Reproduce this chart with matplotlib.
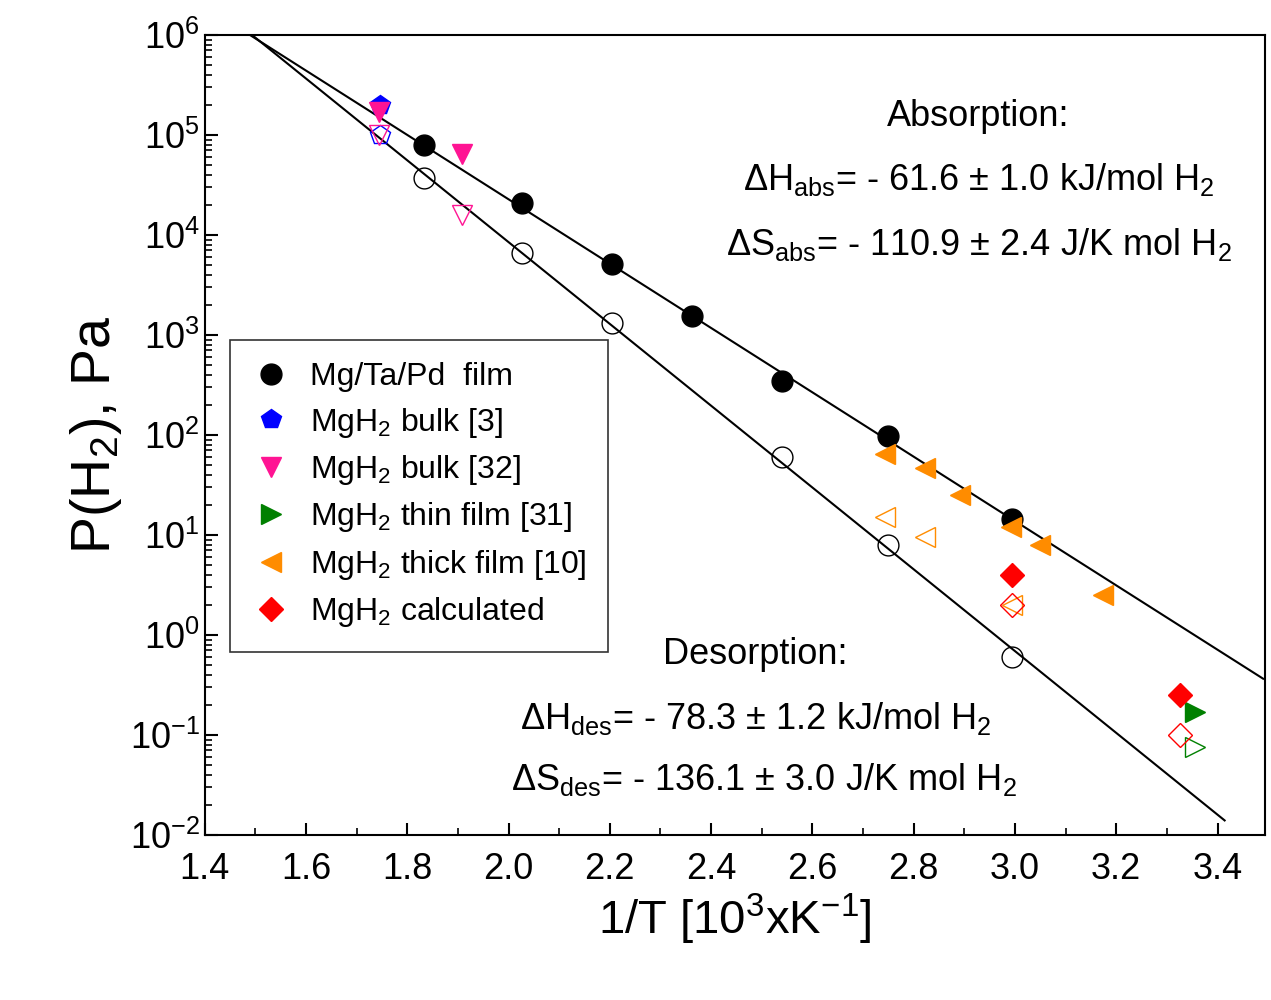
import numpy as np
import matplotlib
matplotlib.use("Agg")
from matplotlib import pyplot as plt
from matplotlib.ticker import LogLocator, MultipleLocator, NullFormatter

plt.rcParams["font.family"] = ["Liberation Sans", "DejaVu Sans"]
plt.rcParams["mathtext.fontset"] = "custom"
plt.rcParams["mathtext.rm"] = "Liberation Sans"
plt.rcParams["mathtext.it"] = "Liberation Sans:italic"

R = 8.314

# film, filled = absorption, open = desorption
film_abs_x = [1.834, 2.026, 2.204, 2.362, 2.541, 2.75, 2.995]
film_abs_p = [7.9e4, 2.1e4, 5.1e3, 1.55e3, 350, 97, 14.5]
film_des_x = [1.834, 2.026, 2.204, 2.541, 2.75, 2.995]
film_des_p = [3.7e4, 6.6e3, 1.33e3, 60, 8, 0.6]

bulk3_abs = ([1.747], [2.0e5])
bulk3_des = ([1.747], [1.0e5])
bulk32_abs = ([1.745, 1.909], [1.7e5, 6.5e4])
bulk32_des = ([1.745, 1.909], [1.0e5, 1.6e4])
thin31_abs = ([3.355], [0.17])
thin31_des = ([3.355], [0.075])
thick10_abs = ([2.743, 2.822, 2.891, 2.993, 3.049, 3.173], [65, 47, 25, 12, 8, 2.5])
thick10_des = ([2.743, 2.822, 2.995], [15, 9.5, 2.0])
calc_abs = ([2.995, 3.325], [4.0, 0.25])
calc_des = ([2.995, 3.325], [2.0, 0.1])

dH_abs, dS_abs = -61.6e3, -110.9
dH_des, dS_des = -78.3e3, -136.1


def vant_hoff(x, dH, dS):
    T = 1000.0 / x
    return 1e5 * np.exp(dH / (R * T) - dS / R)


fig = plt.figure(figsize=(12.71, 10), dpi=100)
ax = fig.add_axes([0.161, 0.165, 0.834, 0.8])

xa = np.linspace(1.49, 3.49, 200)
ax.plot(xa, vant_hoff(xa, dH_abs, dS_abs), "k-", lw=1.5)
xd = np.linspace(1.49, 3.414, 200)
ax.plot(xd, vant_hoff(xd, dH_des, dS_des), "k-", lw=1.5)

ms = 15
ax.plot(film_abs_x, film_abs_p, "o", color="k", ms=ms, label="Mg/Ta/Pd  film")
ax.plot(film_des_x, film_des_p, "o", mfc="none", mec="k", ms=ms)

series = [
    (bulk3_abs, bulk3_des, "p", "blue", r"MgH$_2$ bulk [3]"),
    (bulk32_abs, bulk32_des, "v", "#ff1493", r"MgH$_2$ bulk [32]"),
    (thin31_abs, thin31_des, ">", "green", r"MgH$_2$ thin film [31]"),
    (thick10_abs, thick10_des, "<", "#ff8c00", r"MgH$_2$ thick film [10]"),
    (calc_abs, calc_des, "D", "red", r"MgH$_2$ calculated"),
]
for fa, fd, m, c, lab in series:
    s = ms * 0.8 if m == "D" else ms
    ax.plot(fa[0], fa[1], m, color=c, ms=s, label=lab, lw=0)
    ax.plot(fd[0], fd[1], m, mfc="none", mec=c, ms=s, lw=0)

ax.set_yscale("log")
ax.set_xlim(1.4, 3.493)
ax.set_ylim(1e-2, 1e6)
ax.yaxis.set_major_locator(LogLocator(base=10, numticks=20))
ax.yaxis.set_minor_locator(LogLocator(base=10, subs=np.arange(2, 10), numticks=20))
ax.yaxis.set_minor_formatter(NullFormatter())
ax.xaxis.set_major_locator(MultipleLocator(0.2))
ax.xaxis.set_minor_locator(MultipleLocator(0.1))
ax.tick_params(which="both", direction="in", labelsize=26, top=False, right=False)
ax.tick_params(axis="x", pad=12)
ax.tick_params(which="major", length=9, width=1.5)
ax.tick_params(which="minor", length=5, width=1.2)
for sp in ax.spines.values():
    sp.set_linewidth(1.5)

ax.set_xlabel(r"1/T [10$^3$xK$^{-1}$]", fontsize=34)
ax.set_ylabel(r"P(H$_2$), Pa", fontsize=40)

kw = dict(transform=ax.transAxes, fontsize=26, ha="center", va="center")
ax.text(0.73, 0.8975, "Absorption:", **kw)
ax.text(0.73, 0.819, r"$\Delta$H$_{\rm abs}$= - 61.6 ± 1.0 kJ/mol H$_2$", **kw)
ax.text(0.73, 0.7375, r"$\Delta$S$_{\rm abs}$= - 110.9 ± 2.4 J/K mol H$_2$", **kw)
ax.text(0.519, 0.225, "Desorption:", **kw)
ax.text(0.52, 0.146, r"$\Delta$H$_{\rm des}$= - 78.3 ± 1.2 kJ/mol H$_2$", **kw)
ax.text(0.528, 0.069, r"$\Delta$S$_{\rm des}$= - 136.1 ± 3.0 J/K mol H$_2$", **kw)

leg = ax.legend(loc="upper left", bbox_to_anchor=(0.0236, 0.619), fontsize=23,
                frameon=True, fancybox=False, edgecolor="k", handletextpad=0.6,
                borderpad=0.7, labelspacing=0.42, handlelength=1.2, numpoints=1,
                borderaxespad=0)
leg.get_frame().set_linewidth(1.2)

fig.savefig("out.png", dpi=100)
